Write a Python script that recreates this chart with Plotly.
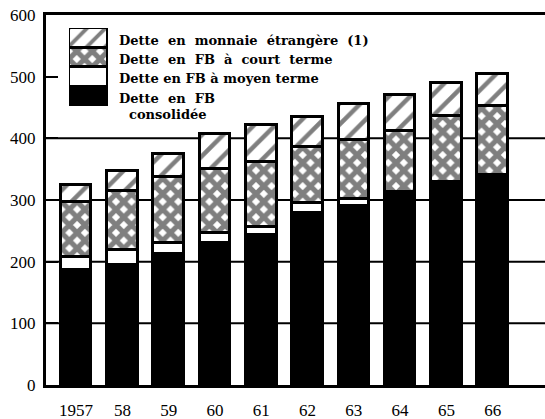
import plotly.graph_objects as go

years = ["1957", "58", "59", "60", "61", "62", "63", "64", "65", "66"]
consolidee = [187, 194, 213, 231, 243, 279, 290, 311, 328, 337]
moyen_terme = [21, 25, 18, 16, 13, 16, 11, 2, 2, 3]
court_terme = [89, 95, 107, 103, 106, 91, 97, 99, 106, 112]
monnaie_etrangere = [27, 33, 36, 57, 59, 48, 57, 58, 54, 53]

series_names = [
    "Dette en FB consolidée",
    "Dette en FB à moyen terme",
    "Dette en FB à court terme",
    "Dette en monnaie étrangère (1)",
]
legend_lines = [
    "Dette  en  monnaie  étrangère  (1)",
    "Dette  en  FB  à  court  terme",
    "Dette en FB à moyen terme",
    "Dette  en  FB",
    "consolidée",
]
y_ticks = [0, 100, 200, 300, 400, 500, 600]
grid_levels = [100, 200, 300, 400]
swatch_heights = [1, 1, 1, 1]

styles = [
    dict(color="black", pattern=None),
    dict(color="white", pattern=None),
    dict(color="white", pattern=dict(shape="x", fgcolor="black", bgcolor="white",
                                     size=11, solidity=0.72, fillmode="overlay")),
    dict(color="white", pattern=dict(shape="/", fgcolor="black", bgcolor="white",
                                     size=15, solidity=0.3, fillmode="overlay")),
]
data = [consolidee, moyen_terme, court_terme, monnaie_etrangere]

fig = go.Figure()
for name, vals, st in zip(series_names, data, styles):
    marker = dict(color=st["color"], line=dict(color="black", width=3))
    if st["pattern"]:
        marker["pattern"] = st["pattern"]
    fig.add_trace(go.Bar(x=years, y=vals, name=name, marker=marker, width=0.66,
                         showlegend=False))

# legend swatch as an inset stacked bar
for name, h, st in zip(series_names, swatch_heights, styles):
    marker = dict(color=st["color"], line=dict(color="black", width=3))
    if st["pattern"]:
        p = dict(st["pattern"])
        p["size"] = 13 if p["shape"] == "/" else 11
        marker["pattern"] = p
    fig.add_trace(go.Bar(x=["leg"], y=[h], name=name, marker=marker, width=1,
                         xaxis="x2", yaxis="y2", showlegend=False, hoverinfo="skip"))

tick_font = "Liberation Serif"
legend_font = "DejaVu Serif"
ann_y = [0.932, 0.881, 0.828, 0.775, 0.731]
ann_x = [0.142, 0.142, 0.142, 0.142, 0.162]
for txt, ax, ay in zip(legend_lines, ann_x, ann_y):
    fig.add_annotation(text="<b>" + txt + "</b>", x=ax, y=ay, xref="paper", yref="paper",
                       xanchor="left", yanchor="middle", showarrow=False,
                       font=dict(family=legend_font, size=13, color="black"))

for g in grid_levels:
    fig.add_shape(type="line", xref="paper", yref="y", x0=0, x1=1, y0=g, y1=g,
                  line=dict(color="black", width=2), layer="below")

fig.update_layout(
    barmode="stack",
    width=545, height=419,
    margin=dict(l=46, r=0, t=15, b=34, autoexpand=False),
    paper_bgcolor="white", plot_bgcolor="white",
    font=dict(family=tick_font, size=17, color="black"),
    xaxis=dict(range=[-0.65, 10.13], showgrid=False, showline=True, linecolor="black",
               linewidth=3, mirror=True, ticks="", ticklabelstandoff=8,
               tickfont=dict(family=tick_font, size=17)),
    yaxis=dict(range=[0, 600], tickvals=y_ticks, showgrid=False, showline=True,
               linecolor="black", linewidth=3, ticks="inside", ticklen=12,
               tickwidth=2, tickcolor="black", zeroline=False,
               tickfont=dict(family=tick_font, size=17), ticklabelstandoff=4),
    xaxis2=dict(domain=[0.046, 0.124], anchor="y2", range=[-0.5, 0.5], visible=False),
    yaxis2=dict(domain=[0.754, 0.965], anchor="x2", range=[0, 4], visible=False),
    bargap=0,
)

# remove the page's default body margin so the figure fills the window exactly
fig.write_html("out.html", config={"displayModeBar": False},
               post_script="document.body.style.margin='0px';document.body.style.overflow='hidden';")
